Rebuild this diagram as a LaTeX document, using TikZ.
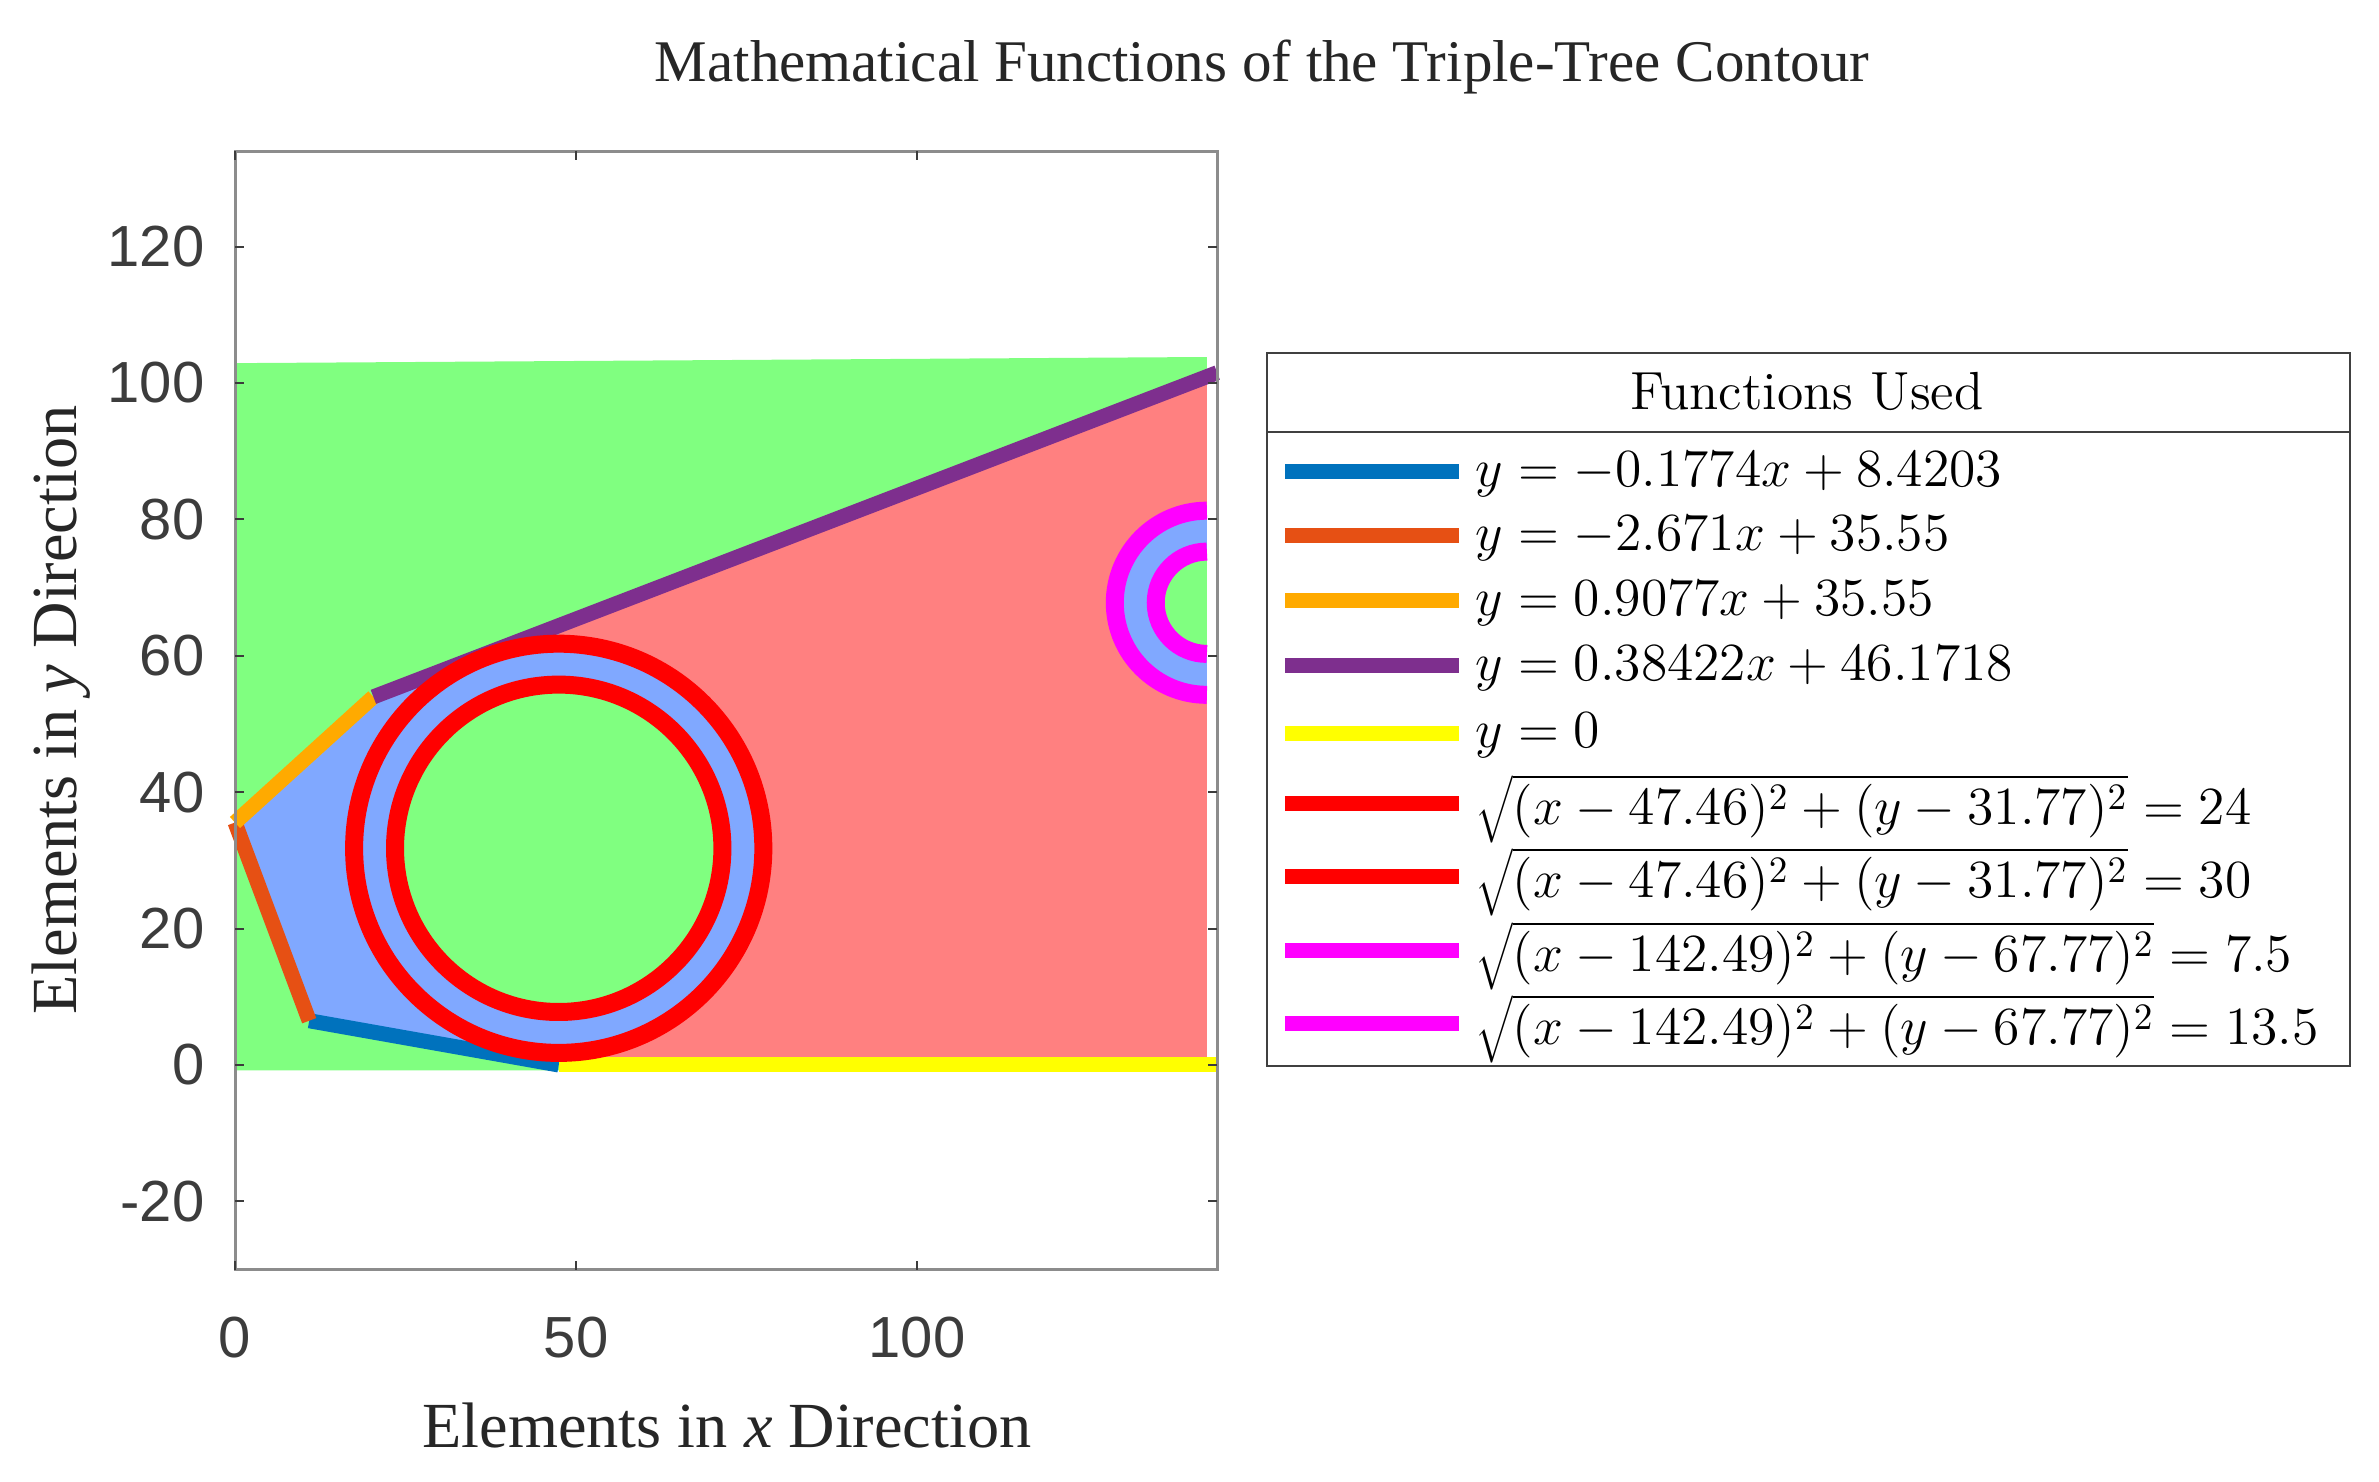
\documentclass[tikz,border=0pt]{standalone}
\usepackage{graphicx}
\usepackage{fontspec}
\newfontfamily\serifarial{Liberation Serif}
\newfontfamily\sansarial{Liberation Sans}
\usetikzlibrary{positioning}
\usetikzlibrary{calc}

\definecolor{fillgreen}{RGB}{128,255,128}
\definecolor{fillred}{RGB}{255,128,128}
\definecolor{fillblue}{RGB}{128,168,255}
\definecolor{lineblue}{RGB}{0,114,189}
\definecolor{linered}{RGB}{230,80,20}
\definecolor{lineorange}{RGB}{255,170,0}
\definecolor{linepurple}{RGB}{126,47,142}
\definecolor{lineyellow}{RGB}{255,255,0}
\definecolor{linecircle}{RGB}{255,0,0}
\definecolor{linemagenta}{RGB}{255,0,255}
\definecolor{axisgray}{RGB}{140,140,140}
\definecolor{tickgray}{RGB}{60,60,60}

\newcommand{\legmath}[1]{\scalebox{1.06}{$#1$}}

\tikzset{
  titletext/.style={font=\serifarial\fontsize{16.8}{20}\selectfont,text=black!85},
  labeltext/.style={font=\serifarial\fontsize{18.3}{22}\selectfont,text=black!85},
  ticktext/.style={font=\sansarial\fontsize{16.5}{20}\selectfont,text=tickgray,inner sep=0pt},
  legtext/.style={font=\fontsize{14.4}{18}\selectfont,anchor=west,inner sep=0pt},
  legline/.style={line width=0.15cm},
  fline/.style={line width=0.15cm},
  ring/.style={line width=0.18cm},
  axisline/.style={draw=axisgray,line width=0.03cm},
  tickmark/.style={draw=tickgray,line width=0.02cm}
}

\begin{document}
\begin{tikzpicture}
\useasboundingbox (0,0) rectangle (23.79,14.81);

\node[titletext](title) at (12.62,14.14){Mathematical Functions of the Triple-Tree Contour};
\node[labeltext](xlabel) at (7.27,0.55){Elements in \textit{x} Direction};
\node[labeltext,rotate=90](ylabel) at (0.61,7.71){Elements in \textit{y} Direction};

\begin{scope}[shift={(2.35,4.16)},x=0.0682cm,y=0.0682cm]
% contour vertices
\coordinate (P0) at (0,35.55);
\coordinate (P1) at (10.88,6.49);
\coordinate (P2) at (47.46,0);
\coordinate (P3) at (20.29,53.97);
\coordinate (P4) at (47.46,64.41);
\coordinate (P5) at (142.49,100.92);
\coordinate (P6) at (142.49,0);
\coordinate (endP) at (144,101.50);
\coordinate (endY) at (144,0);
\coordinate (C1) at (47.46,31.77);
\coordinate (C2) at (142.49,67.77);

% regions
\fill[fillgreen] (0,-0.8) -- (0,102.9) -- (142.49,103.8) -- (142.49,-0.8) -- cycle;
\fill[fillred] (P4) -- (P5) -- (P6) -- (P2) -- cycle;
\fill[fillblue] (P0) -- (P1) -- (P2) -- (P4) -- (P3) -- cycle;
\fill[fillblue] (C1) circle (30);
\fill[fillgreen] (C1) circle (24);
\fill[fillblue] ($(C2)+(0,13.5)$) arc (90:270:13.5) -- cycle;
\fill[fillgreen] ($(C2)+(0,7.5)$) arc (90:270:7.5) -- cycle;

% functions
\path
(P1) edge[fline,lineblue] (P2)
(P0) edge[fline,linered] (P1)
(P0) edge[fline,lineorange] (P3)
(P3) edge[fline,linepurple] (endP)
(P2) edge[fline,lineyellow] (endY);
\draw[ring,linecircle] (C1) circle (24);
\draw[ring,linecircle] (C1) circle (30);
\draw[ring,linemagenta] ($(C2)+(0,7.5)$) arc (90:270:7.5);
\draw[ring,linemagenta] ($(C2)+(0,13.5)$) arc (90:270:13.5);

% axes
\draw[axisline] (0,-30) rectangle (144,134);
\foreach \v in {-20,0,...,120}{
  \draw[tickmark] (0,\v) -- (1.3,\v);
  \draw[tickmark] (144,\v) -- (142.7,\v);
  \node[ticktext,anchor=east] at (-4.4,\v){\v};
}
\foreach \u in {0,50,100}{
  \draw[tickmark] (\u,-30) -- (\u,-28.7);
  \draw[tickmark] (\u,134) -- (\u,132.7);
  \node[ticktext] at (\u,-40){\u};
}
\end{scope}

% legend
\coordinate (legSW) at (12.67,4.15);
\coordinate (legNE) at (23.50,11.28);
\draw[draw=black!75,line width=0.025cm,fill=white] (legSW) rectangle (legNE);
\draw[draw=black!75,line width=0.025cm] (12.67,10.49) -- (23.50,10.49);
\node[legtext,anchor=center](head) at (18.07,10.90){\scalebox{1.06}{Functions Used}};

\node[legtext](f1) at (14.75,10.07){\legmath{y=-0.1774x+8.4203}};
\node[legtext](f2) at (14.75,9.43){\legmath{y=-2.671x+35.55}};
\node[legtext](f3) at (14.75,8.78){\legmath{y=0.9077x+35.55}};
\node[legtext](f4) at (14.75,8.13){\legmath{y=0.38422x+46.1718}};
\node[legtext](f5) at (14.75,7.46){\legmath{y=0}};
\node[legtext](f6) at (14.75,6.72){\legmath{\sqrt{(x-47.46)^2+(y-31.77)^2}=24}};
\node[legtext](f7) at (14.75,5.99){\legmath{\sqrt{(x-47.46)^2+(y-31.77)^2}=30}};
\node[legtext](f8) at (14.75,5.25){\legmath{\sqrt{(x-142.49)^2+(y-67.77)^2}=7.5}};
\node[legtext](f9) at (14.75,4.52){\legmath{\sqrt{(x-142.49)^2+(y-67.77)^2}=13.5}};

\coordinate (s1) at (12.85,10.09); \coordinate (e1) at (14.59,10.09);
\coordinate (s2) at (12.85,9.45);  \coordinate (e2) at (14.59,9.45);
\coordinate (s3) at (12.85,8.80);  \coordinate (e3) at (14.59,8.80);
\coordinate (s4) at (12.85,8.15);  \coordinate (e4) at (14.59,8.15);
\coordinate (s5) at (12.85,7.47);  \coordinate (e5) at (14.59,7.47);
\coordinate (s6) at (12.85,6.77);  \coordinate (e6) at (14.59,6.77);
\coordinate (s7) at (12.85,6.04);  \coordinate (e7) at (14.59,6.04);
\coordinate (s8) at (12.85,5.30);  \coordinate (e8) at (14.59,5.30);
\coordinate (s9) at (12.85,4.57);  \coordinate (e9) at (14.59,4.57);

\path
(s1) edge[legline,lineblue] (e1)
(s2) edge[legline,linered] (e2)
(s3) edge[legline,lineorange] (e3)
(s4) edge[legline,linepurple] (e4)
(s5) edge[legline,lineyellow] (e5)
(s6) edge[legline,linecircle] (e6)
(s7) edge[legline,linecircle] (e7)
(s8) edge[legline,linemagenta] (e8)
(s9) edge[legline,linemagenta] (e9);
\end{tikzpicture}
\end{document}
